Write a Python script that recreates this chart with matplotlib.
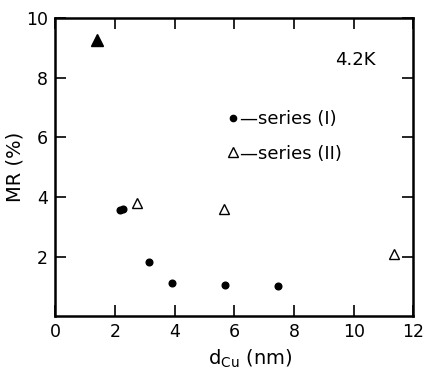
import matplotlib
matplotlib.use("Agg")
import numpy as np
from matplotlib import pyplot as plt
from matplotlib.lines import Line2D

# series (I): filled circles
d_cu_1 = [2.18, 2.28, 3.15, 3.9, 5.7, 7.45]
mr_1 = [3.55, 3.58, 1.83, 1.1, 1.03, 1.0]

# series (II): open triangles
d_cu_2 = [2.75, 5.65, 11.35]
mr_2 = [3.8, 3.6, 2.07]

# single filled triangle at thin Cu
d_cu_3 = [1.4]
mr_3 = [9.27]

xticks = [0, 2, 4, 6, 8, 10, 12]
yticks = [2, 4, 6, 8, 10]

plt.rcParams["font.family"] = "DejaVu Sans"

fig = plt.figure(figsize=(4.24, 3.71), dpi=100)
ax = fig.add_axes([0.130, 0.148, 0.845, 0.803])

ax.plot(d_cu_1, mr_1, "o", color="black", markersize=4.8, linestyle="none")
ax.plot(d_cu_2, mr_2, "^", markerfacecolor="white", markeredgecolor="black",
        markeredgewidth=1.0, markersize=7.5, linestyle="none")
ax.plot(d_cu_3, mr_3, "^", color="black", markersize=9, linestyle="none")

ax.set_xlim(0, 12)
ax.set_ylim(0, 10)
ax.set_xticks(xticks)
ax.set_yticks(yticks)
ax.set_xticklabels([str(v) for v in xticks])
ax.set_yticklabels([str(v) for v in yticks])
ax.tick_params(direction="in", length=8, width=1.2, top=True, right=True,
               labelsize=12.5, pad=5)
for s in ax.spines.values():
    s.set_linewidth(1.8)

ax.set_xlabel("d$_{\\rm Cu}$ (nm)", fontsize=14, labelpad=1)
ax.xaxis.set_label_coords(0.545, -0.105)
ax.set_ylabel("MR (%)", fontsize=14, labelpad=1)
ax.text(10.05, 8.6, "4.2K", fontsize=13, ha="center", va="center")

handles = [
    Line2D([], [], marker="o", color="black", markersize=4.5, linestyle="none"),
    Line2D([], [], marker="^", markerfacecolor="white", markeredgecolor="black",
           markersize=7, linestyle="none"),
]
ax.legend(handles, ["\u2014series (I)", "\u2014series (II)"], loc="upper left",
          bbox_to_anchor=(0.455, 0.715), frameon=False, fontsize=13,
          handlelength=0.8, handletextpad=0.0, labelspacing=0.9,
          borderaxespad=0)

fig.savefig("out.png", dpi=100)
